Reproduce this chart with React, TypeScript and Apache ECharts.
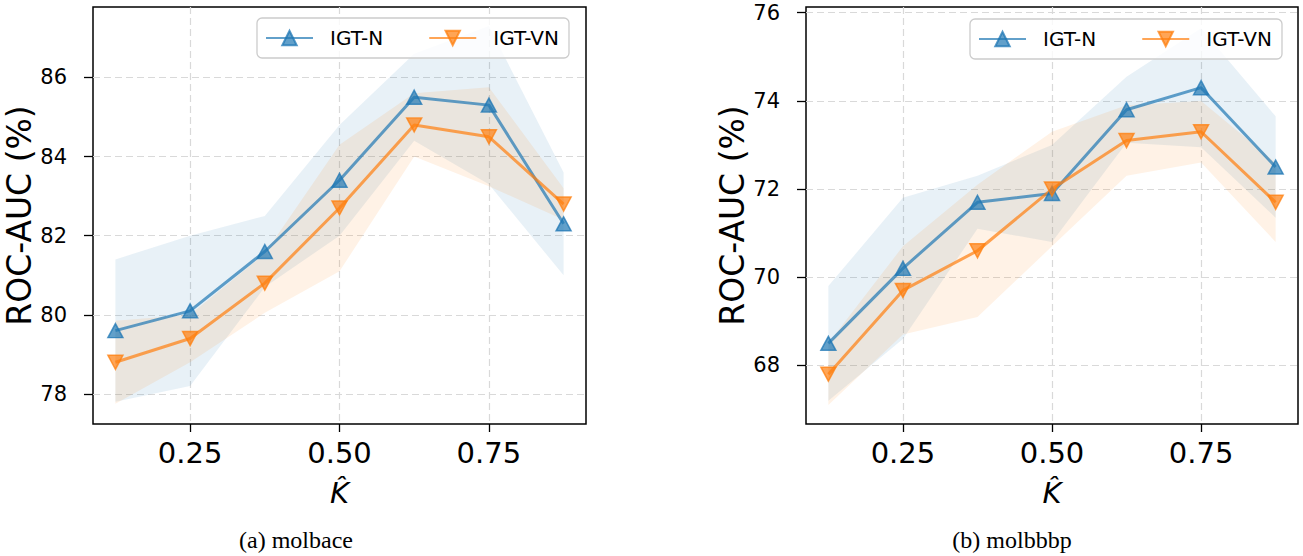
import React, { useEffect, useRef } from 'react';
import * as echarts from 'echarts';

// ---- data ----
const kValues = [0.125, 0.25, 0.375, 0.5, 0.625, 0.75, 0.875];
const xTickValues = [0.25, 0.5, 0.75];
const seriesNames = ['IGT-N', 'IGT-VN'];
const captions = ['(a) molbace', '(b) molbbbp'];

// molbace
const baceTicks = [78, 80, 82, 84, 86];
const baceN = [79.6, 80.1, 81.6, 83.4, 85.5, 85.3, 82.3];
const baceNStd = [1.8, 1.9, 0.9, 1.4, 1.1, 2.0, 1.3];
const baceVN = [78.8, 79.4, 80.8, 82.7, 84.8, 84.5, 82.8];
const baceVNStd = [1.05, 0.6, 0.75, 1.6, 0.8, 1.25, 0.4];

// molbbbp
const bbbpTicks = [68, 70, 72, 74, 76];
const bbbpN = [68.5, 70.2, 71.7, 71.9, 73.8, 74.3, 72.5];
const bbbpNStd = [1.3, 1.6, 0.6, 1.1, 0.75, 1.35, 1.15];
const bbbpVN = [67.8, 69.7, 70.6, 72.0, 73.1, 73.3, 71.7];
const bbbpVNStd = [0.7, 1.0, 1.5, 1.3, 0.8, 0.7, 0.9];

const BLUE = '31,119,180';
const ORANGE = '255,127,14';
const FONT = 'DejaVu Sans';

function band(idx: number, mean: number[], std: number[], rgb: string) {
  const rows = kValues.map((k, i) => [k, mean[i] - std[i], mean[i] + std[i]]);
  return {
    type: 'custom',
    xAxisIndex: idx,
    yAxisIndex: idx,
    silent: true,
    z: 1,
    data: rows,
    encode: { x: 0, y: [1, 2] },
    renderItem: (params: any, api: any) => {
      if (params.dataIndex !== 0) return null;
      const top = rows.map((r) => api.coord([r[0], r[2]]));
      const bot = rows.map((r) => api.coord([r[0], r[1]])).reverse();
      return {
        type: 'polygon',
        shape: { points: top.concat(bot) },
        style: { fill: `rgba(${rgb},0.1)` },
      };
    },
  };
}

function line(idx: number, name: string, mean: number[], rgb: string, down: boolean) {
  return {
    type: 'line',
    name,
    xAxisIndex: idx,
    yAxisIndex: idx,
    z: 3,
    data: kValues.map((k, i) => [k, mean[i]]),
    symbol: 'triangle',
    symbolSize: [15, 14],
    symbolRotate: down ? 180 : 0,
    lineStyle: { color: `rgba(${rgb},0.7)`, width: 3 },
    itemStyle: {
      color: `rgba(${rgb},0.7)`,
      borderColor: `rgba(${rgb},0.75)`,
      borderWidth: 1.5,
    },
  };
}

const gridLine = { show: true, lineStyle: { color: '#d9d9d9', width: 1.2, type: [7, 4] } };

function xAxis(idx: number) {
  return {
    type: 'value',
    gridIndex: idx,
    min: 0.0875,
    max: 0.9125,
    name: 'K\u0302',
    nameLocation: 'middle',
    nameGap: 54,
    nameTextStyle: { fontFamily: FONT, fontSize: 29, fontStyle: 'italic', color: '#000' },
    axisLine: { show: false },
    axisTick: { show: true, customValues: xTickValues, length: 8, lineStyle: { color: '#000', width: 1.3 } },
    axisLabel: {
      customValues: xTickValues,
      formatter: (v: number) => v.toFixed(2),
      fontFamily: FONT,
      fontSize: 29,
      color: '#000',
      margin: 14,
    },
    splitLine: gridLine,
  };
}

function yAxis(idx: number, min: number, max: number, ticks: number[]) {
  return {
    type: 'value',
    gridIndex: idx,
    min,
    max,
    name: 'ROC-AUC (%)',
    nameLocation: 'middle',
    nameGap: 48,
    nameTextStyle: { fontFamily: FONT, fontSize: 33, color: '#000' },
    axisLine: { show: false },
    axisTick: { show: true, customValues: ticks, length: 9, lineStyle: { color: '#000', width: 1.3 } },
    axisLabel: { customValues: ticks, fontFamily: FONT, fontSize: 21, color: '#000', margin: 26 },
    splitLine: gridLine,
  };
}

function legend(left: number, top: number) {
  return {
    left,
    top,
    orient: 'horizontal',
    data: seriesNames,
    itemWidth: 47,
    itemHeight: 18,
    itemGap: 45,
    padding: [9, 10, 9, 8],
    borderColor: '#cccccc',
    borderWidth: 1.3,
    borderRadius: 5,
    backgroundColor: 'rgba(255,255,255,0.8)',
    textStyle: { fontFamily: FONT, fontSize: 20, color: '#000', padding: [0, 0, 0, 12], lineHeight: 22 },
  };
}

export default function App() {
  const ref = useRef<HTMLDivElement>(null);
  useEffect(() => {
    if (!ref.current) return;
    const chart = echarts.init(ref.current, undefined, { renderer: 'svg' });
    chart.setOption({
      animation: false,
      backgroundColor: '#ffffff',
      grid: [
        { left: 93, top: 7, width: 493, height: 417, show: true, borderColor: '#000', borderWidth: 1.5, backgroundColor: 'transparent' },
        { left: 806, top: 7, width: 492, height: 417, show: true, borderColor: '#000', borderWidth: 1.5, backgroundColor: 'transparent' },
      ],
      xAxis: [xAxis(0), xAxis(1)],
      yAxis: [yAxis(0, 77.24, 87.78, baceTicks), yAxis(1, 66.67, 76.13, bbbpTicks)],
      legend: [legend(257, 18), legend(970, 19)],
      series: [
        band(0, baceN, baceNStd, BLUE),
        band(0, baceVN, baceVNStd, ORANGE),
        line(0, seriesNames[0], baceN, BLUE, false),
        line(0, seriesNames[1], baceVN, ORANGE, true),
        band(1, bbbpN, bbbpNStd, BLUE),
        band(1, bbbpVN, bbbpVNStd, ORANGE),
        line(1, seriesNames[0], bbbpN, BLUE, false),
        line(1, seriesNames[1], bbbpVN, ORANGE, true),
      ],
      graphic: [
        { type: 'text', x: 296, y: 540, style: { text: captions[0], font: '24px "Liberation Serif"', fill: '#000', align: 'center', verticalAlign: 'middle' } },
        { type: 'text', x: 1012, y: 540, style: { text: captions[1], font: '24px "Liberation Serif"', fill: '#000', align: 'center', verticalAlign: 'middle' } },
      ],
    });
    return () => chart.dispose();
  }, []);
  return <div ref={ref} style={{ position: 'absolute', left: 0, top: 0, width: 1303, height: 556 }} />;
}
